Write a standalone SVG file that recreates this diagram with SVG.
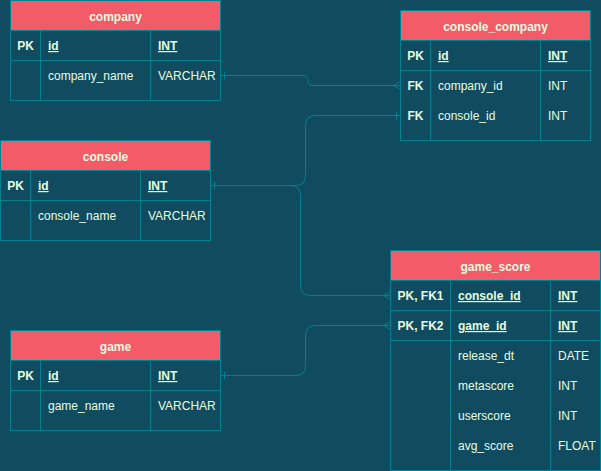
<svg xmlns="http://www.w3.org/2000/svg" width="601" height="471" viewBox="0 0 601 471">
<style>
.bg{fill:#114B5F}
.tb{fill:#114B5F;stroke:#028090;stroke-width:1}
.hd{fill:#F45B69;stroke:#028090;stroke-width:1}
.ln{stroke:#028090;stroke-width:1;fill:none}
text{font-family:"Liberation Sans",Arial,sans-serif;font-size:12px;fill:#E4FDE1}
.h{font-weight:bold;text-anchor:middle}
.k{font-weight:bold;text-anchor:middle}
.u{text-decoration:underline}
.b{font-weight:bold}
.c{stroke:#028090;stroke-width:1;fill:none}
</style>
<rect class="bg" x="0" y="0" width="601" height="471"/>

<g id="company">
<rect class="tb" x="10.5" y="0.5" width="210" height="100"/>
<rect class="hd" x="10.5" y="0.5" width="210" height="30"/>
<path class="ln" d="M10.5 60.5H220.5M40.5 30.5V100.5M150.5 30.5V100.5"/>
<text class="h" x="115.5" y="21">company</text>
<text class="k" x="25.5" y="50">PK</text>
<text class="b u" x="48" y="50">id</text>
<text class="b u" x="158" y="50">INT</text>
<text x="48" y="80">company_name</text>
<text x="158" y="80">VARCHAR</text>
</g>

<g id="console_company">
<rect class="tb" x="400.5" y="10.5" width="190" height="130"/>
<rect class="hd" x="400.5" y="10.5" width="190" height="30"/>
<path class="ln" d="M400.5 70.5H590.5M430.5 40.5V140.5M540.5 40.5V140.5"/>
<text class="h" x="495.5" y="31">console_company</text>
<text class="k" x="415.5" y="60">PK</text>
<text class="b u" x="438" y="60">id</text>
<text class="b u" x="548" y="60">INT</text>
<text class="k" x="415.5" y="90">FK</text>
<text x="438" y="90">company_id</text>
<text x="548" y="90">INT</text>
<text class="k" x="415.5" y="120">FK</text>
<text x="438" y="120">console_id</text>
<text x="548" y="120">INT</text>
</g>

<g id="console">
<rect class="tb" x="0.5" y="140.5" width="210" height="100"/>
<rect class="hd" x="0.5" y="140.5" width="210" height="30"/>
<path class="ln" d="M0.5 200.5H210.5M30.5 170.5V240.5M140.5 170.5V240.5"/>
<text class="h" x="105.5" y="161">console</text>
<text class="k" x="15.5" y="190">PK</text>
<text class="b u" x="38" y="190">id</text>
<text class="b u" x="148" y="190">INT</text>
<text x="38" y="220">console_name</text>
<text x="148" y="220">VARCHAR</text>
</g>

<g id="game_score">
<rect class="tb" x="390.5" y="250.5" width="210" height="220"/>
<rect class="hd" x="390.5" y="250.5" width="210" height="30"/>
<path class="ln" d="M390.5 310.5H600.5M390.5 340.5H600.5M450.5 280.5V470.5M550.5 280.5V470.5"/>
<text class="h" x="495.5" y="271">game_score</text>
<text class="k" x="420.5" y="300">PK, FK1</text>
<text class="b u" x="458" y="300">console_id</text>
<text class="b u" x="558" y="300">INT</text>
<text class="k" x="420.5" y="330">PK, FK2</text>
<text class="b u" x="458" y="330">game_id</text>
<text class="b u" x="558" y="330">INT</text>
<text x="458" y="360">release_dt</text>
<text x="558" y="360">DATE</text>
<text x="458" y="390">metascore</text>
<text x="558" y="390">INT</text>
<text x="458" y="420">userscore</text>
<text x="558" y="420">INT</text>
<text x="458" y="450">avg_score</text>
<text x="558" y="450">FLOAT</text>
</g>

<g id="game">
<rect class="tb" x="10.5" y="330.5" width="210" height="100"/>
<rect class="hd" x="10.5" y="330.5" width="210" height="30"/>
<path class="ln" d="M10.5 390.5H220.5M40.5 360.5V430.5M150.5 360.5V430.5"/>
<text class="h" x="115.5" y="351">game</text>
<text class="k" x="25.5" y="380">PK</text>
<text class="b u" x="48" y="380">id</text>
<text class="b u" x="158" y="380">INT</text>
<text x="48" y="410">game_name</text>
<text x="158" y="410">VARCHAR</text>
</g>

<g id="connectors">
<path class="c" d="M220.5 75.5H303Q308 75.5 308 80.5Q308 85.5 313 85.5H400.5"/>
<path class="c" d="M224.5 71.5V79.5M393.5 85.5L400.5 81.5M393.5 85.5L400.5 89.5"/>
<path class="c" d="M210.5 185.5H295.5Q305.5 185.5 305.5 175.5V125.5Q305.5 115.5 315.5 115.5H400.5"/>
<path class="c" d="M214.5 181.5V189.5M396.5 111.5V119.5"/>
<path class="c" d="M210.5 185.5H290.5Q300.5 185.5 300.5 195.5V285.5Q300.5 295.5 310.5 295.5H390.5"/>
<path class="c" d="M383.5 295.5L390.5 291.5M383.5 295.5L390.5 299.5"/>
<path class="c" d="M220.5 375.5H295.5Q305.5 375.5 305.5 365.5V335.5Q305.5 325.5 315.5 325.5H390.5"/>
<path class="c" d="M224.5 371.5V379.5M383.5 325.5L390.5 321.5M383.5 325.5L390.5 329.5"/>
</g>
</svg>
